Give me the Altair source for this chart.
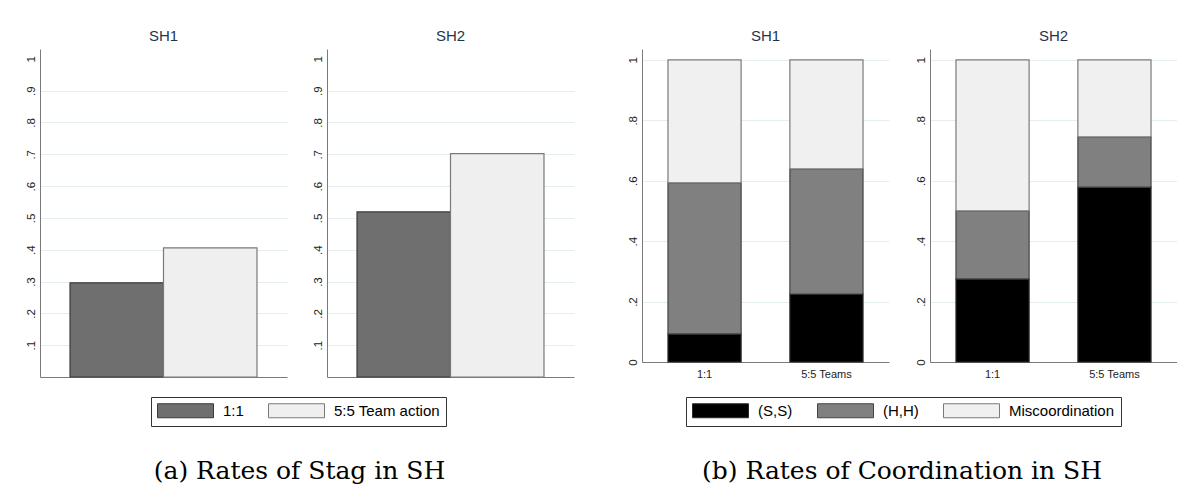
import altair as alt
import pandas as pd

# ---------------- data ----------------
panels = ["SH1", "SH2"]

stag_groups = ["1:1", "5:5 Team action"]
stag_sh1 = [0.296, 0.406]
stag_sh2 = [0.519, 0.702]

coord_groups = ["1:1", "5:5 Teams"]
outcomes = ["(S,S)", "(H,H)", "Miscoordination"]
ss_sh1 = [0.093, 0.225]
hh_sh1 = [0.500, 0.414]
mis_sh1 = [0.407, 0.361]
ss_sh2 = [0.275, 0.579]
hh_sh2 = [0.225, 0.166]
mis_sh2 = [0.500, 0.255]

stag_ticks = [0.1, 0.2, 0.3, 0.4, 0.5, 0.6, 0.7, 0.8, 0.9, 1.0]
coord_ticks = [0.0, 0.2, 0.4, 0.6, 0.8, 1.0]

captions = ["(a) Rates of Stag in SH", "(b) Rates of Coordination in SH"]

# ---------------- styles ----------------
stag_fill = ["#6f6f6f", "#efefef"]
stag_stroke = ["#3a3a3a", "#7a7a7a"]
coord_fill = ["#000000", "#808080", "#f0f0f0"]
coord_stroke = ["#2a2a2a", "#444444", "#7a7a7a"]
AXC = "#7a7a7a"
GRID = "#e4eef0"
TITLE_C = "#1f3550"
SANS = "Liberation Sans"
SERIF = "DejaVu Serif"

# ---------------- tables ----------------
stag_rows = []
for p, vals in zip(panels, [stag_sh1, stag_sh2]):
    for g, v in zip(stag_groups, vals):
        stag_rows.append({"panel": p, "group": g, "rate": v})
stag_df = pd.DataFrame(stag_rows)

coord_rows = []
coord_vals = {
    "SH1": [ss_sh1, hh_sh1, mis_sh1],
    "SH2": [ss_sh2, hh_sh2, mis_sh2],
}
for p in panels:
    for k, o in enumerate(outcomes):
        for g, v in zip(coord_groups, coord_vals[p][k]):
            coord_rows.append({"panel": p, "group": g, "outcome": o, "share": v, "rank": k})
coord_df = pd.DataFrame(coord_rows)

label_expr = ("datum.value == 0 ? '0' : datum.value >= 0.999 ? '1' : "
              "substring(format(datum.value, '.1f'), 1)")


def legend(lx, ly):
    # wide swatch: path spans 8x2 units, each unit = sqrt(size)/2 = 7px -> 56x14
    return alt.Legend(
        title=None, orient="none", legendX=lx, legendY=ly, direction="horizontal",
        symbolType="M-4,-1H4V1H-4Z", symbolSize=196, symbolStrokeWidth=1,
        symbolOffset=21,
        labelFont=SANS, labelFontSize=15, labelColor="#000000", labelOffset=30,
        columnPadding=22, padding=6, strokeColor="#333333", fillColor="#ffffff",
        labelLimit=400, symbolOpacity=1,
    )


def ptitle(p):
    return alt.TitleParams(p, font=SANS, fontSize=15, fontWeight="normal",
                           color=TITLE_C, anchor="middle", offset=5)


def stag_panel(p):
    lg = legend(111, 348)
    return alt.Chart(stag_df).transform_filter(alt.datum.panel == p).mark_bar(
        strokeWidth=1.2
    ).encode(
        x=alt.X("group:N", sort=stag_groups,
                scale=alt.Scale(domain=stag_groups, paddingInner=0, paddingOuter=0.321),
                axis=alt.Axis(title=None, labels=False, ticks=False, grid=False,
                              domainColor=AXC)),
        y=alt.Y("rate:Q", scale=alt.Scale(domain=[0, 1.031], nice=False),
                axis=alt.Axis(title=None, values=stag_ticks, labelExpr=label_expr,
                              labelAngle=270, ticks=False, labelPadding=4,
                              labelFont=SANS, labelFontSize=11.5, labelColor="#222222",
                              grid=True,
                              gridColor={"condition": {"test": "datum.value >= 0.999",
                                                       "value": "transparent"},
                                         "value": GRID},
                              domainColor=AXC)),
        fill=alt.Fill("group:N", scale=alt.Scale(domain=stag_groups, range=stag_fill),
                      legend=lg),
        stroke=alt.Stroke("group:N", scale=alt.Scale(domain=stag_groups, range=stag_stroke),
                          legend=lg),
    ).properties(width=247, height=328, title=ptitle(p))


def coord_panel(p):
    lg = legend(44, 348)
    return alt.Chart(coord_df).transform_filter(alt.datum.panel == p).mark_bar(
        strokeWidth=1.2
    ).encode(
        x=alt.X("group:N", sort=coord_groups,
                scale=alt.Scale(domain=coord_groups, paddingInner=0.4, paddingOuter=0.213),
                axis=alt.Axis(title=None, labelAngle=0, ticks=False, grid=False,
                              labelPadding=6, labelFont=SANS, labelFontSize=11,
                              labelColor="#222222", domainColor=AXC)),
        y=alt.Y("share:Q", stack="zero", scale=alt.Scale(domain=[0, 1.036], nice=False),
                axis=alt.Axis(title=None, values=coord_ticks, labelExpr=label_expr,
                              labelAngle=270, ticks=False, labelPadding=4,
                              labelFont=SANS, labelFontSize=11.5, labelColor="#222222",
                              grid=True, gridColor=GRID, domainColor=AXC)),
        order=alt.Order("rank:Q", sort="ascending"),
        fill=alt.Fill("outcome:N", scale=alt.Scale(domain=outcomes, range=coord_fill),
                      legend=lg),
        stroke=alt.Stroke("outcome:N", scale=alt.Scale(domain=outcomes, range=coord_stroke),
                          legend=lg),
    ).properties(width=247, height=313, title=ptitle(p))


def caption(t):
    return alt.TitleParams(t, orient="bottom", anchor="middle", font=SERIF, fontSize=25,
                           fontWeight="normal", color="#000000", offset=32)


figA = alt.hconcat(*[stag_panel(p) for p in panels], spacing=25).properties(
    title=caption(captions[0]))
figB = alt.hconcat(*[coord_panel(p) for p in panels], spacing=25).properties(
    title=caption(captions[1]))

chart = alt.hconcat(figA, figB, spacing=52).resolve_scale(
    x="independent", y="independent", fill="independent", stroke="independent"
).properties(
    padding={"left": 17, "top": 21, "right": 0, "bottom": 0}
).configure_view(strokeWidth=0)

chart.save("out.html", embed_options={"renderer": "svg", "actions": False})
